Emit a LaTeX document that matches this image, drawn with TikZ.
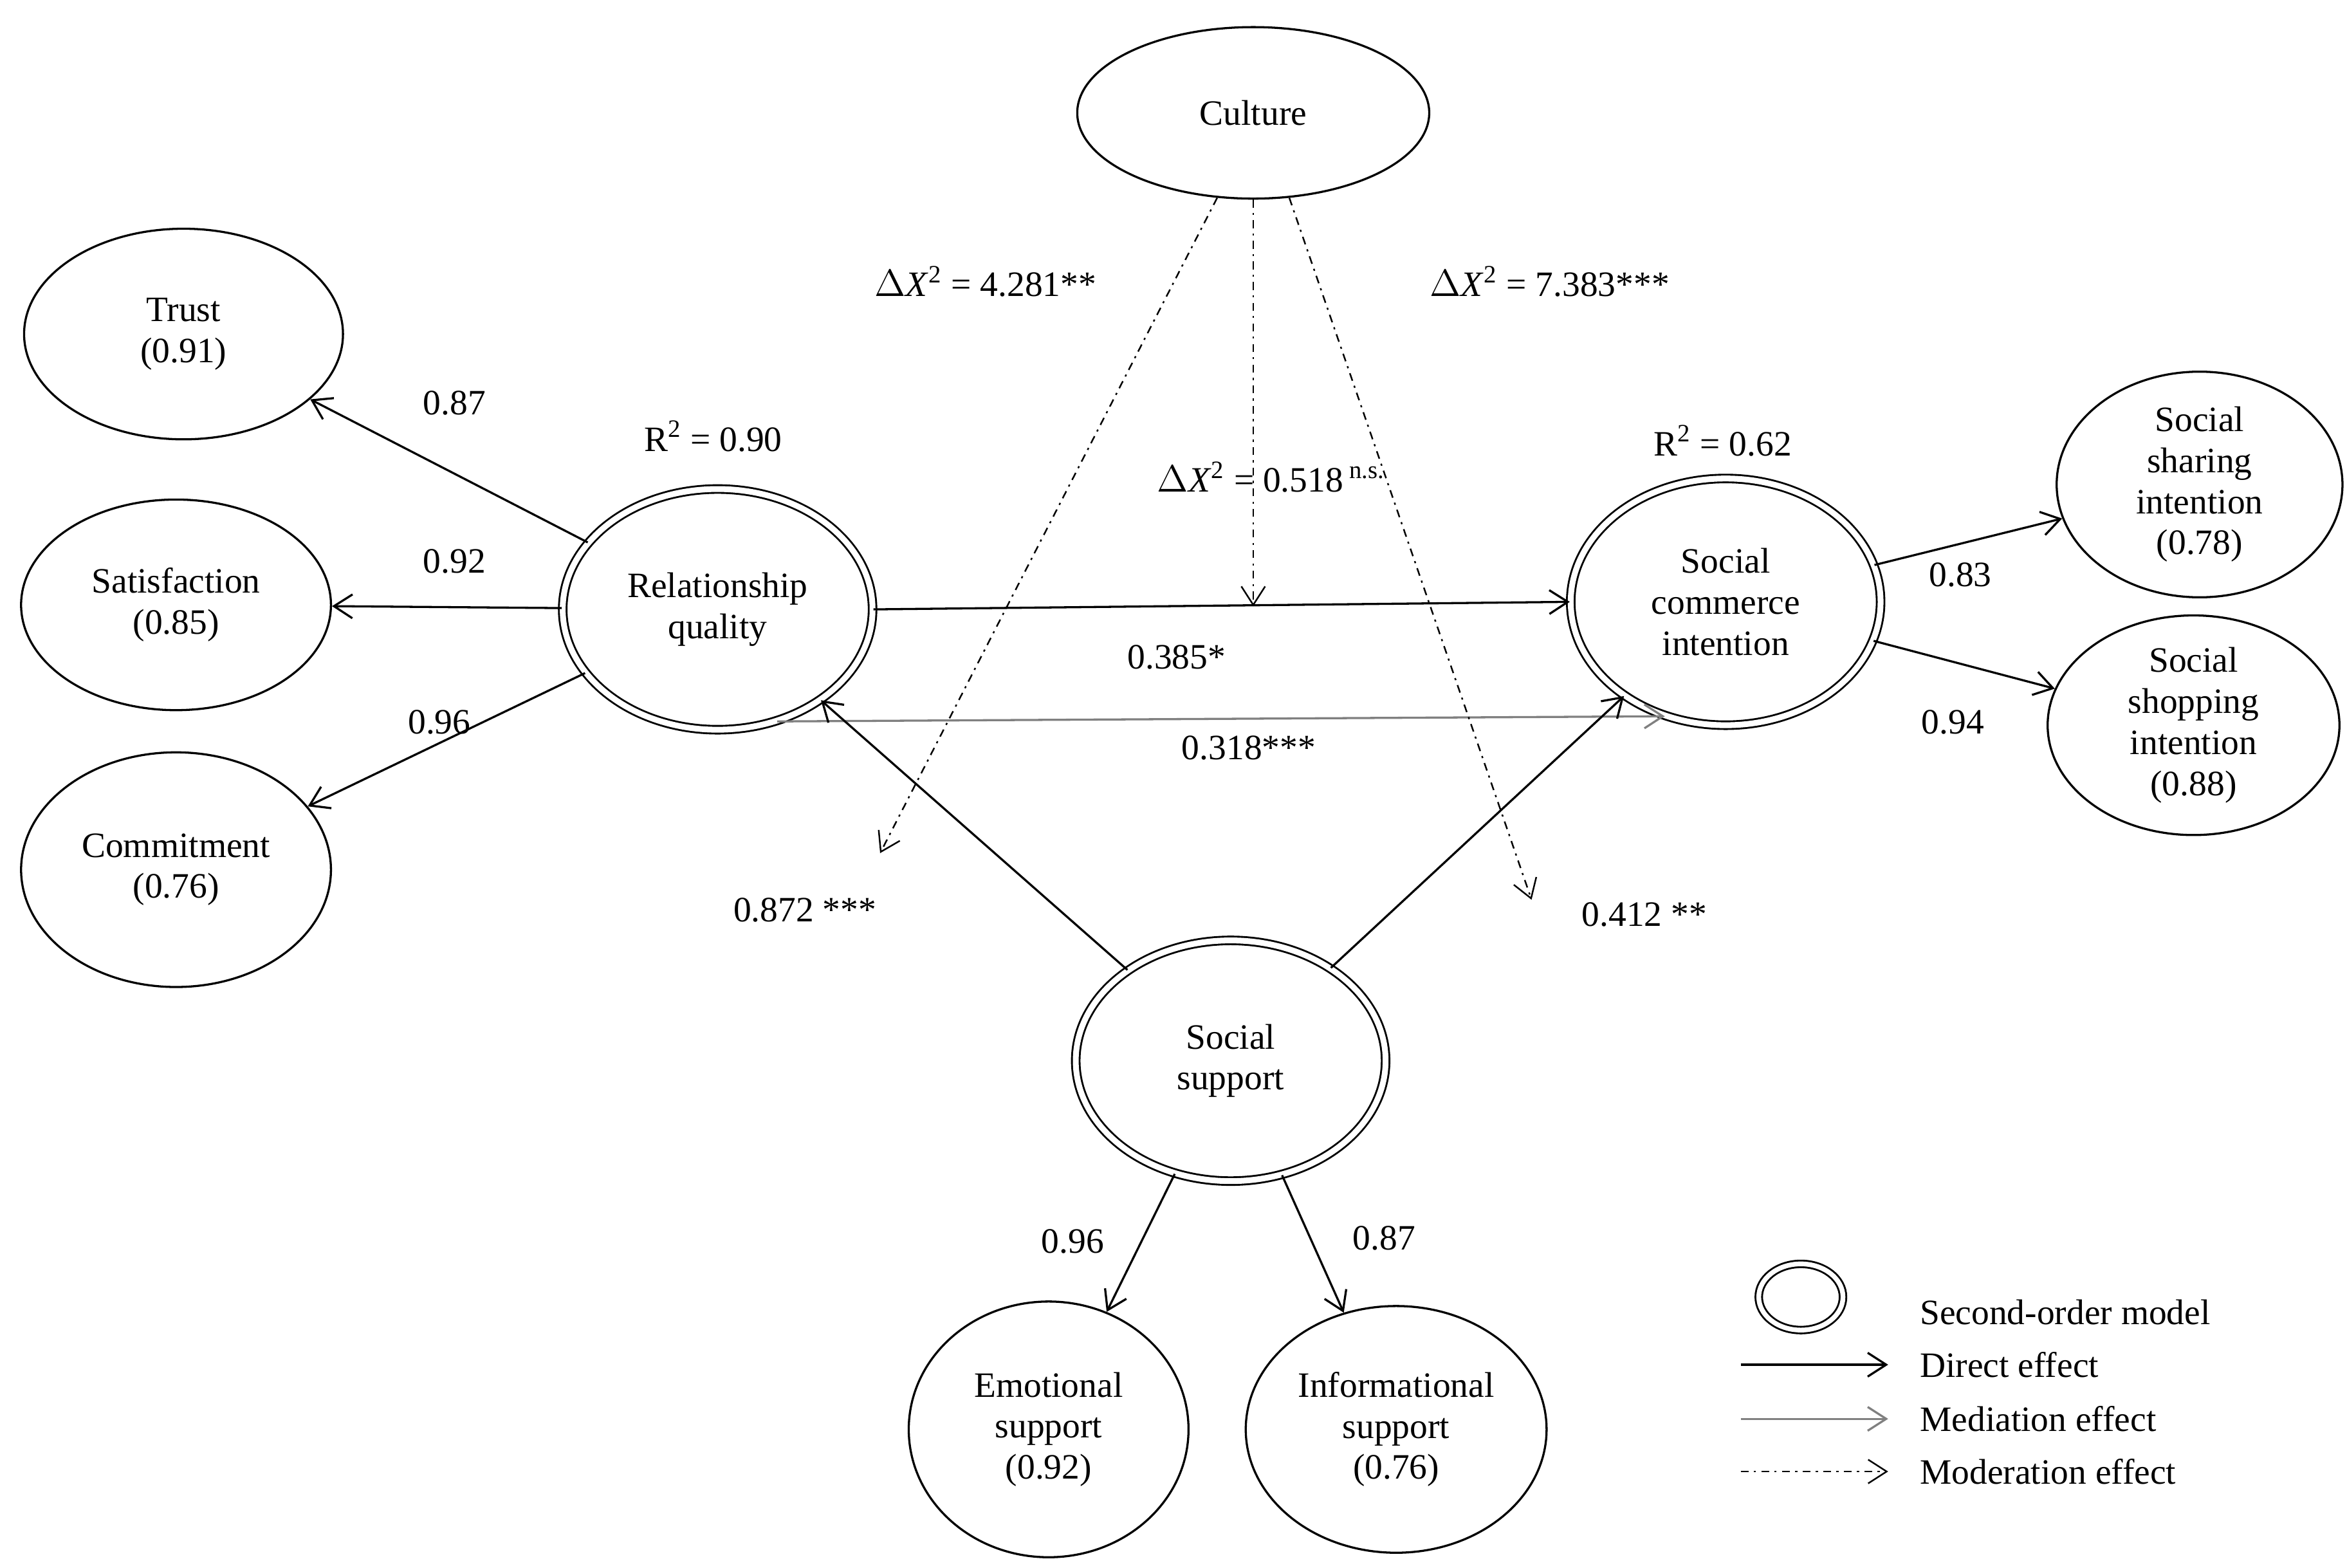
\documentclass[tikz,border=0pt]{standalone}
\usepackage{fontspec}
\setmainfont{Liberation Serif}
\usetikzlibrary{shapes.geometric,arrows.meta}
\begin{document}
\begin{tikzpicture}[x=0.02cm,y=-0.02cm,
  lat/.style={draw,ellipse,inner sep=0pt,align=center,line width=0.8pt,font=\fontsize{13.5}{15.5}\selectfont},
  sec/.style={lat,double,double distance=2.2pt,line width=0.7pt},
  lbl/.style={font=\fontsize{13.5}{15.5}\selectfont},
  arr/.style={-{Straight Barb[length=7pt,width=9pt]},line width=0.8pt},
  med/.style={arr,draw=gray},
  mod/.style={arr,dash dot,line width=0.6pt}]
\useasboundingbox (0,0) rectangle (1560,1042);
\node[lat,minimum width=234\pgflinewidth,minimum width=4.68cm,minimum height=2.28cm] (cul) at (833,75) {Culture};
\node[lat,minimum width=4.24cm,minimum height=2.8cm] (tr) at (122,222) {Trust\\(0.91)};
\node[lat,minimum width=4.12cm,minimum height=2.8cm] (sa) at (117,402) {Satisfaction\\(0.85)};
\node[lat,minimum width=4.12cm,minimum height=3.12cm] (co) at (117,578) {Commitment\\(0.76)};
\node[sec,minimum width=4.12cm,minimum height=3.2cm] (rq) at (477,405) {Relationship\\quality};
\node[sec,minimum width=4.12cm,minimum height=3.28cm] (sci) at (1147,400) {Social\\commerce\\intention};
\node[lat,minimum width=3.8cm,minimum height=3.0cm] (sh) at (1462,322) {Social\\sharing\\intention\\(0.78)};
\node[lat,minimum width=3.88cm,minimum height=2.92cm] (sp) at (1458,482) {Social\\shopping\\intention\\(0.88)};
\node[sec,minimum width=4.12cm,minimum height=3.2cm] (ss) at (818,705) {Social\\support};
\node[lat,minimum width=3.72cm,minimum height=3.4cm] (es) at (697,950) {Emotional\\support\\(0.92)};
\node[lat,minimum width=4.0cm,minimum height=3.28cm] (is) at (928,950) {Informational\\support\\(0.76)};

\draw[arr] (rq) -- (tr);
\draw[arr] (rq) -- (sa);
\draw[arr] (rq) -- (co);
\draw[arr] (rq.east) -- (sci.west);
\draw[med] (rq.-62) -- (sci.-118);
\draw[arr] (ss) -- (rq);
\draw[arr] (ss) -- (sci);
\draw[arr] (sci) -- (sh);
\draw[arr] (sci) -- (sp);
\draw[arr] (ss) -- (es);
\draw[arr] (ss) -- (is);

\coordinate (m1) at (585,567);
\coordinate (m2) at (833,403);
\coordinate (m3) at (1018,598);
\draw[mod] (cul.-113) -- (m1);
\draw[mod] (cul.-90) -- (m2);
\draw[mod] (cul.-67) -- (m3);

\node[lbl] (l1) at (302,268) {0.87};
\node[lbl] (l2) at (302,373) {0.92};
\node[lbl] (l3) at (292,480) {0.96};
\node[lbl] (l4) at (782,437) {0.385*};
\node[lbl] (l5) at (830,497) {0.318***};
\node[lbl] (l6) at (535,605) {0.872 ***};
\node[lbl] (l7) at (1093,608) {0.412 **};
\node[lbl] (l8) at (1303,382) {0.83};
\node[lbl] (l9) at (1298,480) {0.94};
\node[lbl] (l10) at (713,825) {0.96};
\node[lbl] (l11) at (920,823) {0.87};
\node[lbl] (d1) at (655,187) {$\Delta$\textit{X}\textsuperscript{2} = 4.281**};
\node[lbl] (d2) at (1030,187) {$\Delta$\textit{X}\textsuperscript{2} = 7.383***};
\node[lbl] (d3) at (845,317) {$\Delta$\textit{X}\textsuperscript{2} = 0.518\,\textsuperscript{n.s.}};
\node[lbl] (r1) at (474,290) {R\textsuperscript{2} = 0.90};
\node[lbl] (r2) at (1145,293) {R\textsuperscript{2} = 0.62};

\node[sec,minimum width=1.12cm,minimum height=0.88cm,double distance=1.8pt] (lg) at (1197,862) {};
\node[lbl,anchor=west] (t1) at (1270,872) {Second-order model};
\coordinate (a1) at (1157,907); \coordinate (b1) at (1255,907);
\coordinate (a2) at (1157,943); \coordinate (b2) at (1255,943);
\coordinate (a3) at (1157,978); \coordinate (b3) at (1255,978);
\draw[arr] (a1) -- (b1);
\draw[med] (a2) -- (b2);
\draw[mod] (a3) -- (b3);
\node[lbl,anchor=west] (t2) at (1270,907) {Direct effect};
\node[lbl,anchor=west] (t3) at (1270,943) {Mediation effect};
\node[lbl,anchor=west] (t4) at (1270,978) {Moderation effect};
\end{tikzpicture}
\end{document}
